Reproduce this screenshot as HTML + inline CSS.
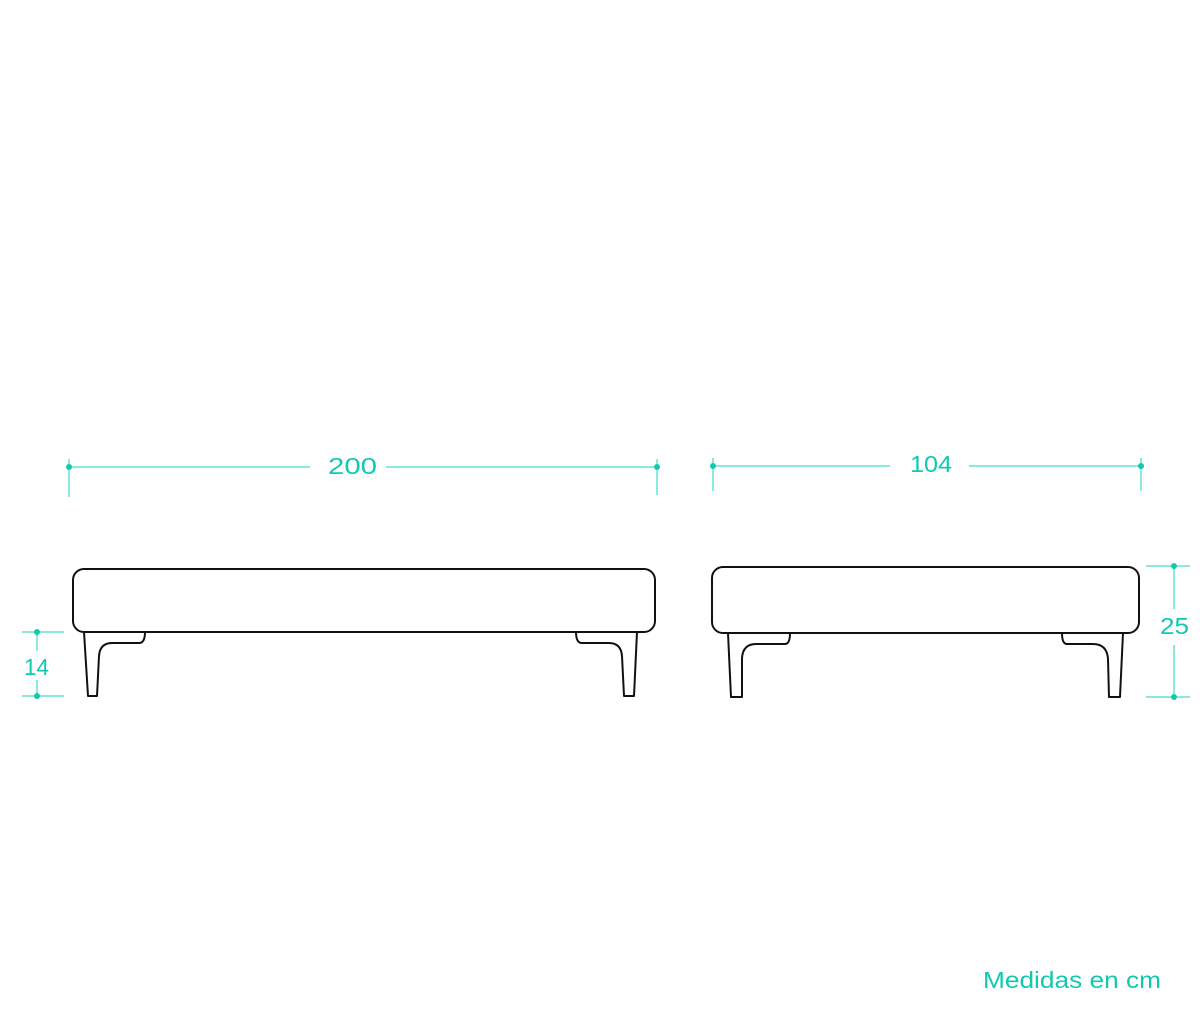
<!DOCTYPE html>
<html><head><meta charset="utf-8"><style>
html,body{margin:0;padding:0;background:#fff;}
svg{display:block;}
text{font-family:"Liberation Sans",sans-serif;fill:#12c9b0;}
</style></head><body>
<svg width="1200" height="1028" viewBox="0 0 1200 1028" xmlns="http://www.w3.org/2000/svg">
<g fill="none" stroke="#111" stroke-width="2" stroke-linejoin="round">
  <rect x="73" y="569" width="582" height="63" rx="11"/>
  <path d="M84 632 L88 696 L97 696 L99 656 Q100 643 112 643 L139 643 Q145 643 145 632"/>
  <path d="M637 632 L634 696 L624 696 L622 656 Q621 643 609 643 L582 643 Q576 643 576 632"/>
  <rect x="712" y="567" width="427" height="66" rx="11"/>
  <path d="M728 633 L731 697 L742 697 L742 658 Q743 644 756 644 L785 644 Q790 644 790 633"/>
  <path d="M1123 633 L1120 697 L1109 697 L1108 659 Q1107 644 1093 644 L1067 644 Q1062 644 1062 633"/>
</g>
<g stroke="#62e3cf" stroke-width="1.5" fill="none">
  <line x1="69" y1="467" x2="310" y2="467"/><line x1="386" y1="467" x2="657" y2="467"/>
  <line x1="69" y1="459" x2="69" y2="497"/><line x1="657" y1="459" x2="657" y2="495"/>
  <line x1="713" y1="466" x2="890" y2="466"/><line x1="969" y1="466" x2="1141" y2="466"/>
  <line x1="713" y1="458" x2="713" y2="491"/><line x1="1141" y1="458" x2="1141" y2="491"/>
  <line x1="22" y1="632" x2="64" y2="632"/><line x1="22" y1="696" x2="64" y2="696"/>
  <line x1="37" y1="632" x2="37" y2="651"/><line x1="37" y1="680" x2="37" y2="696"/>
  <line x1="1146" y1="566" x2="1190" y2="566"/><line x1="1146" y1="697" x2="1190" y2="697"/>
  <line x1="1174" y1="566" x2="1174" y2="609"/><line x1="1174" y1="645" x2="1174" y2="697"/>
</g>
<g fill="#12c9b0">
  <circle cx="69" cy="467" r="3"/><circle cx="657" cy="467" r="3"/>
  <circle cx="713" cy="466" r="3"/><circle cx="1141" cy="466" r="3"/>
  <circle cx="37" cy="632" r="3"/><circle cx="37" cy="696" r="3"/>
  <circle cx="1174" cy="566" r="3"/><circle cx="1174" cy="697" r="3"/>
</g>
<text x="328" y="474" font-size="23" textLength="49" lengthAdjust="spacingAndGlyphs">200</text>
<text x="910" y="472" font-size="23" textLength="42" lengthAdjust="spacingAndGlyphs">104</text>
<text x="24" y="675" font-size="23" textLength="25" lengthAdjust="spacingAndGlyphs">14</text>
<text x="1160" y="634" font-size="23" textLength="29" lengthAdjust="spacingAndGlyphs">25</text>
<text x="983" y="988" font-size="23" textLength="178" lengthAdjust="spacingAndGlyphs">Medidas en cm</text>
</svg>
</body></html>
